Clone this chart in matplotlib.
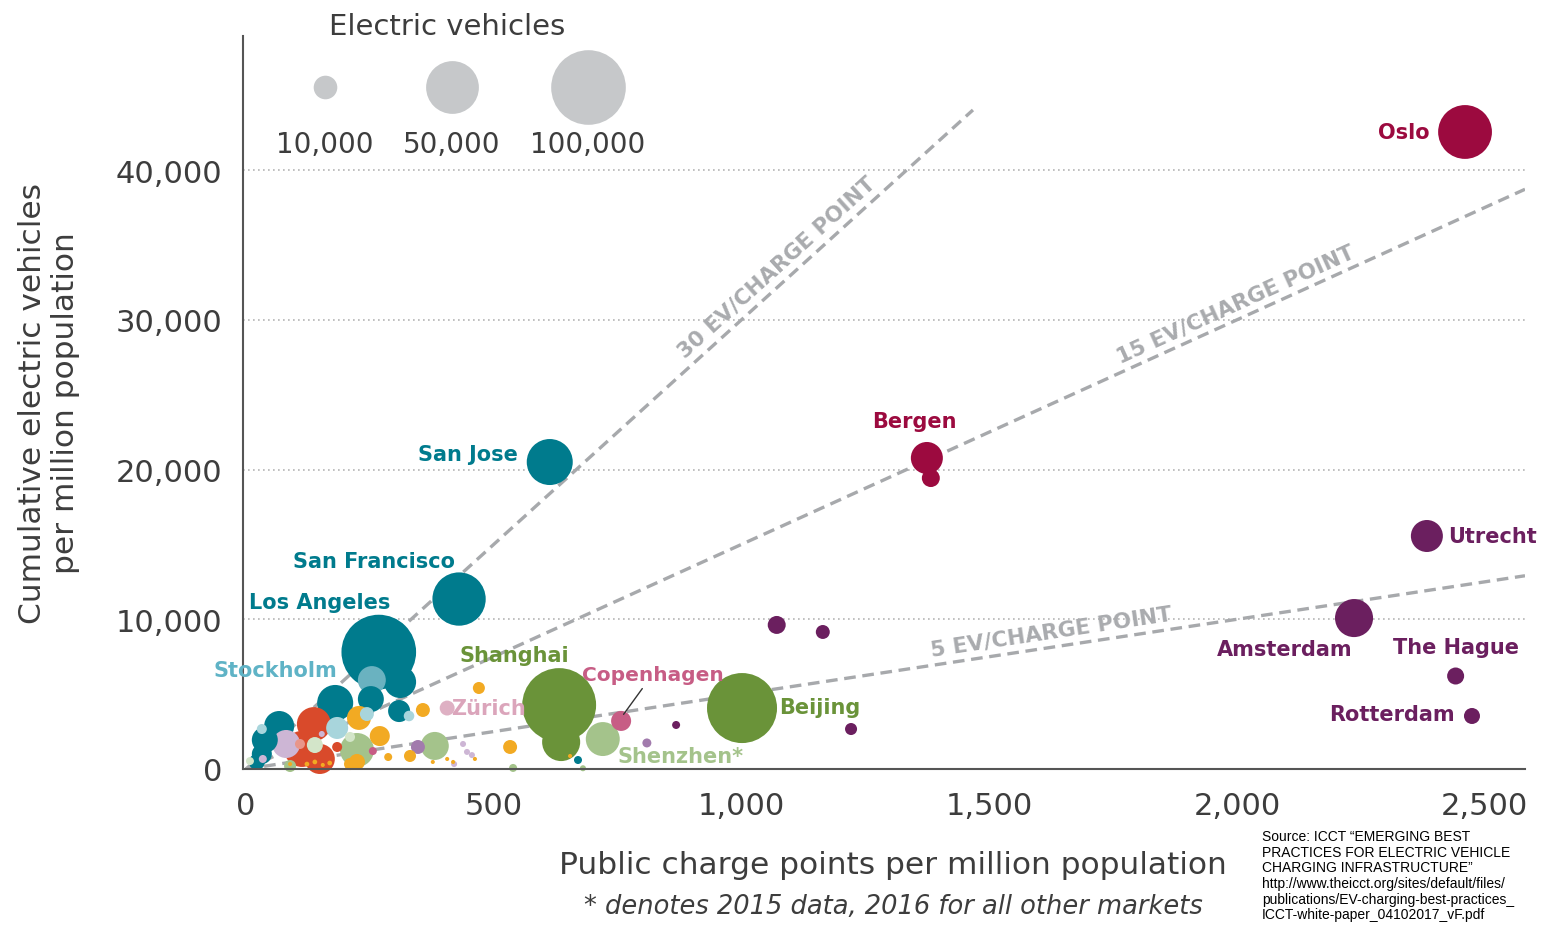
import matplotlib
matplotlib.use("Agg")
import matplotlib.pyplot as plt
import matplotlib.transforms as mtransforms
import numpy as np

# Bubble data: public charge points / EVs per million population, EV count
x_vals = [2460, 1374, 1382, 613, 430, 268, 254, 632, 636, 1001, 720, 757, 406,
          2383, 2236, 2441, 2474,
          1071, 1164, 1221, 868, 809,
          311, 309, 252, 329, 180, 67, 38, 32, 22, 670,
          137, 113, 149, 184,
          81, 34, 153, 446, 438, 456, 420,
          184, 244, 32,
          139, 8, 210,
          109,
          228, 270, 357, 470, 533, 331, 287, 210, 224,
          377, 406, 418, 462, 654, 123, 139, 155, 169, 89,
          224, 381, 539, 680, 89,
          347, 256]
y_vals = [42540, 20770, 19430, 20500, 11350, 7810, 5940, 4270, 1800, 4070, 2000, 3210, 4070,
          15560, 10080, 6210, 3540,
          9620, 9150, 2670, 2940, 1740,
          5810, 3870, 4670, 3540, 4410, 2870, 1940, 1000, 470, 600,
          3000, 1340, 670, 1470,
          1670, 670, 2340, 1140, 1670, 930, 330,
          2740, 3670, 2670,
          1600, 530, 2140,
          1670,
          3410, 2200, 3940, 5410, 1470, 870, 800, 330, 470,
          470, 670, 470, 670, 870, 330, 470, 270, 400, 330,
          1270, 1540, 70, 50, 200,
          1470, 1200]
ev_counts = [52000, 18400, 5800, 38000, 51000, 100000, 14000, 98000, 26000, 88000, 20700, 7200, 4000,
             18400, 26000, 5200, 4600,
             5800, 3500, 2600, 1150, 1450,
             18400, 8700, 12100, 2000, 23300, 16200, 12100, 7200, 4600, 1150,
             20700, 23300, 16200, 1800,
             14100, 1150, 650, 650, 650, 650, 650,
             8700, 3500, 1800,
             4600, 1150, 1800,
             1800,
             10300, 7200, 3500, 2600, 3500, 2600, 1150, 2600, 4600,
             300, 300, 300, 300, 300, 400, 400, 300, 400, 300,
             20700, 14100, 1150, 650, 2600,
             3500, 1150]
groups = (['norway'] * 3 + ['us'] * 3 + ['sweden'] + ['china'] * 3 + ['china_lt'] + ['copenhagen'] + ['zurich']
          + ['nl'] * 4
          + ['nl'] * 4 + ['mauve']
          + ['us'] * 3 + ['cyan'] + ['us'] * 6
          + ['red'] * 4
          + ['lavender'] * 7
          + ['cyan'] * 3
          + ['pale'] * 3
          + ['salmon']
          + ['orange'] * 9
          + ['orange'] * 10
          + ['china_lt'] * 5
          + ['mauve', 'copenhagen'])

group_colors = {'norway': '#9c0a3f', 'us': '#007b8d', 'sweden': '#6ab2c0', 'cyan': '#a8d5dc',
                'china': '#6a9339', 'china_lt': '#a4c38b', 'pale': '#d3e5c9', 'red': '#d94a2b',
                'orange': '#f2aa23', 'zurich': '#deb0c3', 'copenhagen': '#c75d85',
                'lavender': '#cdb6d5', 'mauve': '#a27bad', 'salmon': '#e8968a', 'nl': '#6b1f5f'}

# City labels: name, group
city_names = ['Oslo', 'Bergen', 'San Jose', 'San Francisco', 'Los Angeles', 'Stockholm',
              'Shanghai', 'Copenhagen', 'Zürich', 'Beijing', 'Shenzhen*', 'Utrecht',
              'Amsterdam', 'The Hague', 'Rotterdam']
city_groups = ['norway', 'norway', 'us', 'us', 'us', 'sweden', 'china', 'copenhagen', 'zurich',
               'china', 'china_lt', 'nl', 'nl', 'nl', 'nl']
# label anchor positions (layout)
label_pos = {'Oslo': (2337, 42540), 'Bergen': (1348, 23240),
             'San Jose': (448, 21040), 'San Francisco': (258, 13890),
             'Los Angeles': (149, 11150), 'Stockholm': (59, 6610),
             'Shanghai': (541, 7610), 'Copenhagen': (821, 6340),
             'Zürich': (490, 4070), 'Beijing': (1158, 4140),
             'Shenzhen*': (876, 870), 'Utrecht': (2516, 15560),
             'Amsterdam': (2096, 8010), 'The Hague': (2441, 8150),
             'Rotterdam': (2312, 3670)}
label_colors = {'sweden': '#5fb3c6', 'china_lt': '#a4c38b', 'zurich': '#dba5bb'}

ratios = [30, 15, 5]
ratio_label_x = [1092, 2010, 1630]

legend_sizes = [10000, 50000, 100000]

DPI = 100


def bubble_size(n):
    r_px = 11.8 * np.sqrt(np.asarray(n) / 10000.0)
    return (2 * r_px * 72.0 / DPI) ** 2


fig = plt.figure(figsize=(15.5, 9.37), dpi=DPI)
ax = fig.add_axes([243 / 1550, 167 / 937, 1282 / 1550, 733 / 937])
ax.set_xlim(-6, 2581)
ax.set_ylim(0, 48950)

grey_txt = '#3d3d3d'
for side in ['top', 'right']:
    ax.spines[side].set_visible(False)
for side in ['left', 'bottom']:
    ax.spines[side].set_color('#555555')
    ax.spines[side].set_linewidth(1.5)

ax.set_xticks([0, 500, 1000, 1500, 2000, 2500])
ax.set_xticklabels(['0', '500', '1,000', '1,500', '2,000', '2,500'])
ax.set_yticks([0, 10000, 20000, 30000, 40000])
ax.set_yticklabels(['0', '10,000', '20,000', '30,000', '40,000'])
ax.tick_params(length=0, labelsize=22, colors=grey_txt)
ax.tick_params(axis='x', pad=16)
ax.tick_params(axis='y', pad=15)
for yv in [10000, 20000, 30000, 40000]:
    ax.axhline(yv, color='#b5b5b5', lw=1.2, ls=(0, (1, 2)), zorder=0)

# ratio lines
px_per_x = 1282 / 2587
px_per_y = 733 / 48950
for r, lx in zip(ratios, ratio_label_x):
    xe = 1467 if r == 30 else 2581
    ax.plot([0, xe], [0, r * xe], color='#a7a9ac', lw=2.4, ls=(0, (3.5, 2)), zorder=1,
            solid_capstyle='butt')
    ang = np.degrees(np.arctan2(r, 1))
    theta = np.arctan2(r * px_per_y, px_per_x)
    off = mtransforms.offset_copy(ax.transData, fig=fig, x=-np.sin(theta) * 4,
                                  y=np.cos(theta) * 4, units='points')
    ax.text(lx, r * lx, f'{r} EV/CHARGE POINT', rotation=ang, transform_rotates_text=True,
            rotation_mode='anchor', ha='center', va='bottom', fontsize=15.5,
            fontweight='bold', color='#a9abae', zorder=1, transform=off)

# bubbles, biggest first
order = np.argsort(ev_counts)[::-1]
xs = np.array(x_vals)[order]
ys = np.array(y_vals)[order]
ns = np.array(ev_counts)[order]
cs = [group_colors[groups[i]] for i in order]
ax.scatter(xs, ys, s=bubble_size(ns), c=cs, linewidths=0, zorder=2, clip_on=False)

# city labels
for name, g in zip(city_names, city_groups):
    lx, ly = label_pos[name]
    col = label_colors.get(g, group_colors[g])
    if name == 'Copenhagen':
        ax.annotate(name, xy=(762, 3650), xytext=(lx, ly), ha='center', va='center', fontsize=14.5,
                    fontweight='bold', color=col, zorder=4,
                    arrowprops=dict(arrowstyle='-', color='#333333', lw=1, shrinkA=2, shrinkB=0))
    else:
        ax.text(lx, ly, name, ha='center', va='center', fontsize=15, fontweight='bold',
                color=col, zorder=4)

# size legend
leg_x = [0.064, 0.163, 0.269]
for lx, n in zip(leg_x, legend_sizes):
    ax.scatter([lx], [0.930], s=bubble_size(n), color='#c6c8ca', linewidths=0,
               transform=ax.transAxes, clip_on=False, zorder=3)
    ax.text(lx, 0.853, f'{n:,}', transform=ax.transAxes, ha='center', va='center',
            fontsize=20, color=grey_txt)
ax.text(0.159, 1.0136, 'Electric vehicles', transform=ax.transAxes, ha='center', va='center',
        fontsize=21, color=grey_txt)

# axis titles
fig.text(49 / 1550, 1 - 403 / 937, 'Cumulative electric vehicles\nper million population',
         rotation=90, ha='center', va='center', fontsize=22.5, color=grey_txt, linespacing=1.15)
fig.text(893 / 1550, 1 - 866 / 937, 'Public charge points per million population',
         ha='center', va='center', fontsize=22.5, color=grey_txt)
fig.text(893 / 1550, 1 - 907 / 937, '* denotes 2015 data, 2016 for all other markets',
         ha='center', va='center', fontsize=18.5, color=grey_txt, style='italic')

fig.text(1262 / 1550, 1 - 830 / 937,
         'Source: ICCT \u201cEMERGING BEST\n'
         'PRACTICES FOR ELECTRIC VEHICLE\n'
         'CHARGING INFRASTRUCTURE\u201d\n'
         'http://www.theicct.org/sites/default/files/\n'
         'publications/EV-charging-best-practices_\n'
         'ICCT-white-paper_04102017_vF.pdf',
         ha='left', va='top', fontsize=10, color='black', family='Liberation Sans',
         linespacing=1.15)

fig.savefig('out.png', dpi=DPI)
